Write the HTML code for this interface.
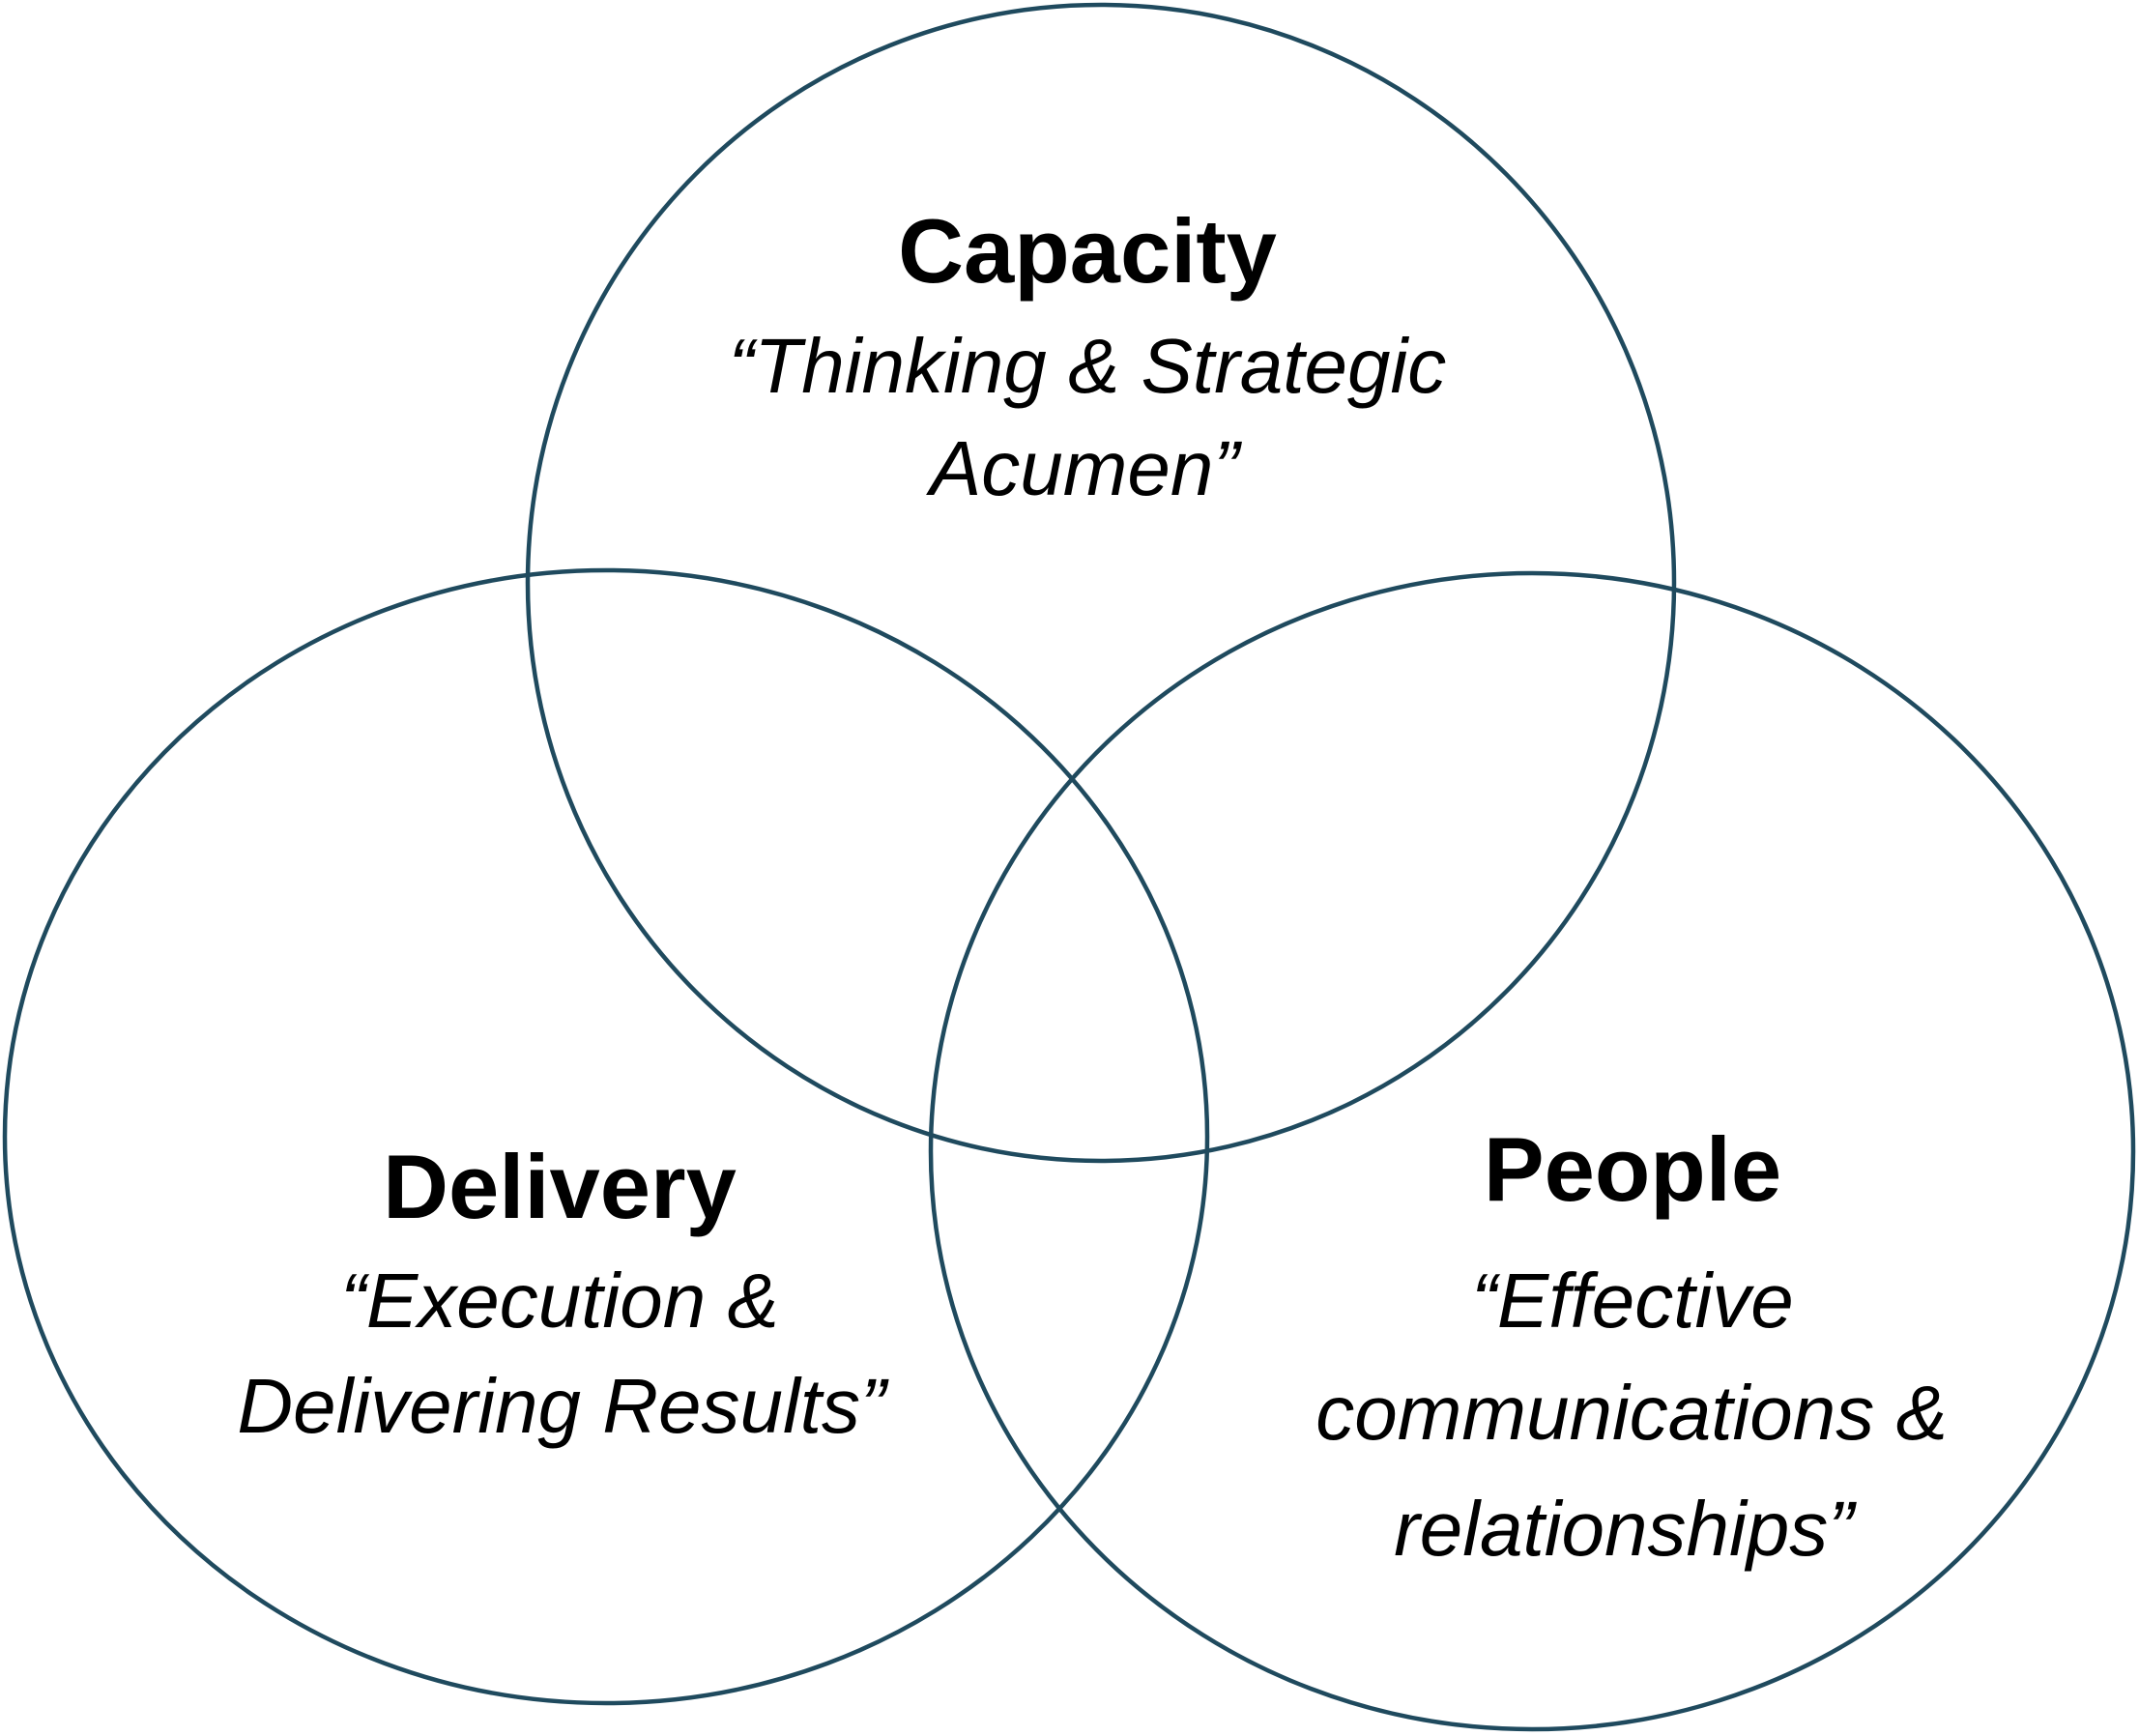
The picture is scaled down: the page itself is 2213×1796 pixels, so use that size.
<!DOCTYPE html>
<html><head><meta charset="utf-8"><style>
html,body{margin:0;padding:0;background:#fff;}
svg{display:block;}
.b{font-family:"Liberation Sans",sans-serif;font-weight:bold;font-size:94px;fill:#000;}
.i{font-family:"Liberation Sans",sans-serif;font-style:italic;font-size:80px;fill:#000;}
</style></head><body>
<svg width="2213" height="1796" viewBox="0 0 2213 1796" xmlns="http://www.w3.org/2000/svg">
<g fill="none" stroke="#1f4a5e" stroke-width="4.5">
<ellipse cx="1139" cy="603" rx="593" ry="598"/>
<ellipse cx="627" cy="1176" rx="622" ry="586"/>
<ellipse cx="1585" cy="1191" rx="622" ry="598"/>
</g>
<g text-anchor="middle">
<text class="b" x="1125" y="292">Capacity</text>
<text class="i" x="1125" y="406">“Thinking &amp; Strategic</text>
<text class="i" x="1122" y="512">Acumen”</text>
<text class="b" x="579" y="1260">Delivery</text>
<text class="i" x="579" y="1373">“Execution &amp;</text>
<text class="i" x="581" y="1482">Delivering Results”</text>
<text class="b" x="1689" y="1242">People</text>
<text class="i" x="1689" y="1373">“Effective</text>
<text class="i" x="1688" y="1489">communications &amp;</text>
<text class="i" x="1680" y="1609">relationships”</text>
</g>
</svg>
</body></html>
